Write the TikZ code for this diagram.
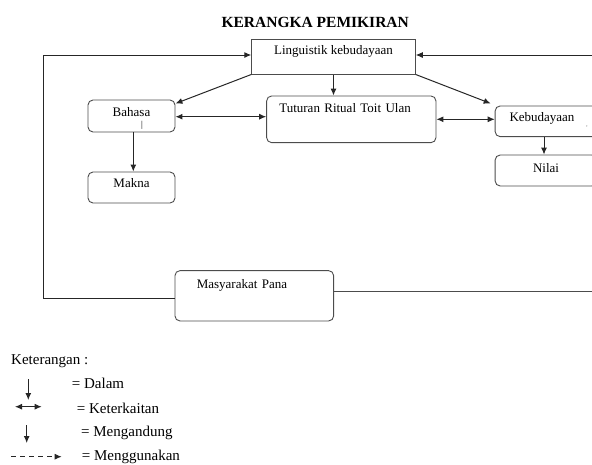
\documentclass[tikz,border=0pt]{standalone}
\usepackage{fontspec}
\setmainfont{Liberation Serif}
\usetikzlibrary{arrows.meta}
\tikzset{%
  block/.style  = {shape=rectangle, draw=black!70, line width=0.9pt,%
                   inner sep=0pt, text height=9pt,%
                   font=\fontsize{13}{15}\selectfont},%
  rblock/.style = {block, rounded corners=5pt},%
  lblock/.style = {rblock, align=left},%
  link/.style   = {draw=black!85, line width=1pt,%
                   -{Latex[length=7pt,width=6pt]}},%
  dlink/.style  = {link, {Latex[length=7pt,width=6pt]}-{Latex[length=7pt,width=6pt]}},%
  wire/.style   = {draw=black!70, line width=0.9pt},%
  legend/.style = {font=\fontsize{15}{18}\selectfont, anchor=west, inner sep=0pt}%
}
\begin{document}
\begin{tikzpicture}[x=1pt,y=-1pt]
	\useasboundingbox (0,0) rectangle (592,464);
	\clip (0,0) rectangle (592,464);
	\node[font=\fontsize{15.5}{18}\selectfont\bfseries] (judul) at (315.2,22.7) {KERANGKA PEMIKIRAN};
	\node[block, minimum width=163.6pt, minimum height=34.7pt, text depth=13pt]
		(ling) at (333.5,56.7) {Linguistik kebudayaan};
	\node[rblock, minimum width=87pt, minimum height=32pt, text depth=9pt]
		(bahasa) at (131.5,116) {Bahasa};
	\node[inner sep=0pt, font=\fontsize{9}{10}\selectfont] (garis) at (142,125) {|};
	\node[rblock, minimum width=87pt, minimum height=31pt, text depth=10pt]
		(makna) at (131.5,187.5) {Makna};
	\node[lblock, minimum width=169.3pt, minimum height=46.7pt, text depth=23pt,
		inner xsep=12.6pt, text width=144pt] (tutur) at (351.3,119.3) {Tuturan Ritual Toit Ulan};
	\node[lblock, minimum width=109.7pt, minimum height=30.7pt, text depth=9pt,
		inner xsep=14pt, text width=81pt] (keb) at (550,121.3) {Kebudayaan};
	\node[inner sep=0pt, font=\tiny] (koma) at (587,127) {,};
	\node[rblock, minimum width=101.7pt, minimum height=31pt, text depth=6pt]
		(nilai) at (546,170.5) {Nilai};
	\node[lblock, minimum width=158.7pt, minimum height=50.3pt, text depth=24.6pt,
		inner xsep=21.7pt, text width=115pt] (masy) at (254.3,295.8) {Masyarakat Pana};

	\coordinate (kiri) at (43.3,200);
	\coordinate (tepi) at (592,0);
	\draw[link] ([yshift=-3pt]masy.west) -| (kiri) |- ([yshift=1.7pt]ling.west);
	\draw[link] ([yshift=1.7pt]ling.east -| tepi) -- ([yshift=1.7pt]ling.east);
	\draw[wire] ([yshift=4.8pt]masy.east) -- ([yshift=4.8pt]masy.east -| tepi);
	\draw[link] (ling.south west) -- ([yshift=-4pt]bahasa.north east);
	\draw[link] (ling.south) -- (ling.south |- tutur.north);
	\draw[link] (ling.south east) -- ([shift={(-4pt,2pt)}]keb.north west);
	\draw[dlink] ([yshift=-0.7pt]bahasa.east) -- ([yshift=-0.7pt]bahasa.east -| tutur.west);
	\draw[dlink] (tutur.east) -- (tutur.east -| keb.west);
	\draw[link] ([xshift=-6pt]keb.south) -- ([xshift=-6pt]keb.south |- nilai.north);
	\draw[link] ([xshift=1.8pt]bahasa.south) -- ([xshift=1.8pt]makna.north);

	\node[legend] (ket) at (11,361.7) {Keterangan :};
	\coordinate (a1) at (28.3,379);
	\coordinate (b1) at (28.3,400);
	\draw[link] (a1) -- (b1);
	\node[legend] (l1) at (71.7,383.5) {= Dalam};
	\coordinate (a2) at (15,406.7);
	\coordinate (b2) at (41.7,406.7);
	\draw[dlink] (a2) -- (b2);
	\node[legend] (l2) at (76.7,408.3) {= Keterkaitan};
	\coordinate (a3) at (26.7,425);
	\coordinate (b3) at (26.7,443);
	\draw[link] (a3) -- (b3);
	\node[legend] (l3) at (81,433) {= Mengandung};
	\coordinate (a4) at (11,456.7);
	\coordinate (b4) at (61.7,456.7);
	\draw[link, dash pattern=on 5pt off 4pt] (a4) -- (b4);
	\node[legend] (l4) at (81.7,456.7) {= Menggunakan};
\end{tikzpicture}
\end{document}
